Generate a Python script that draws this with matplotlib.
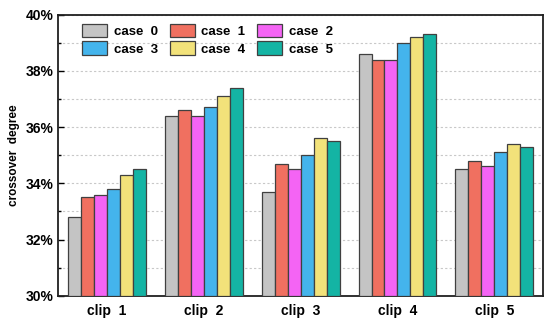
import matplotlib
matplotlib.use("Agg")
import matplotlib.pyplot as plt
import numpy as np
from matplotlib.ticker import MultipleLocator, FuncFormatter

plt.rcParams["font.family"] = ["Liberation Sans Narrow", "Liberation Sans", "DejaVu Sans"]
plt.rcParams["font.weight"] = "bold"

clips = ["clip  1", "clip  2", "clip  3", "clip  4", "clip  5"]
cases = ["case  0", "case  1", "case  2", "case  3", "case  4", "case  5"]
case0 = [32.8, 36.4, 33.7, 38.6, 34.5]
case1 = [33.5, 36.6, 34.7, 38.4, 34.8]
case2 = [33.6, 36.4, 34.5, 38.4, 34.6]
case3 = [33.8, 36.7, 35.0, 39.0, 35.1]
case4 = [34.3, 37.1, 35.6, 39.2, 35.4]
case5 = [34.5, 37.4, 35.5, 39.3, 35.3]
colors = ["#c4c4c4", "#f07060", "#f464f4", "#44b4ec", "#f2e27a", "#14b4a4"]

series = [case0, case1, case2, case3, case4, case5]

fig, ax = plt.subplots(figsize=(5.5, 3.25), dpi=100)
fig.subplots_adjust(left=0.106, right=0.987, top=0.955, bottom=0.09)

x = np.arange(len(clips))
w = 0.134
bars = []
for i, vals in enumerate(series):
    b = ax.bar(x + (i - 2.5) * w, np.array(vals) - 30, w, bottom=30,
               color=colors[i], edgecolor="#404040", linewidth=0.9,
               label=cases[i], zorder=3)
    bars.append(b)

ax.set_xlim(-0.5, 4.5)
ax.set_ylim(30, 40)
ax.set_xticks(x)
ax.set_xticklabels(clips, fontsize=10, fontweight="bold")
ax.tick_params(axis="x", length=0, pad=6)
ax.yaxis.set_major_locator(MultipleLocator(2))
ax.yaxis.set_minor_locator(MultipleLocator(1))
ax.yaxis.set_major_formatter(FuncFormatter(lambda v, p: "%d%%" % v))
ax.tick_params(axis="y", which="major", direction="in", length=4, width=1, labelsize=10)
ax.tick_params(axis="y", which="minor", direction="in", length=2.5, width=1)
for lab in ax.get_yticklabels():
    lab.set_fontweight("bold")
ax.grid(axis="y", which="both", linestyle=(0, (2, 2)), color="#c8c8c8",
        linewidth=0.8, zorder=0)
for s in ax.spines.values():
    s.set_linewidth(1.3)
    s.set_color("#202020")

ax.set_ylabel("crossover  degree", fontsize=8.5, fontweight="bold", labelpad=4)

# legend filled row-wise: case0 case1 case2 / case3 case4 case5
order = [0, 3, 1, 4, 2, 5]
ax.legend([bars[k] for k in order], [cases[k] for k in order],
          ncol=3, loc="upper left", bbox_to_anchor=(0.03, 1.0), frameon=False,
          fontsize=9.5, handlelength=1.9, handleheight=1.2, columnspacing=0.9,
          labelspacing=0.25, handletextpad=0.5, borderaxespad=0.3)

fig.savefig("out.png", dpi=100)
